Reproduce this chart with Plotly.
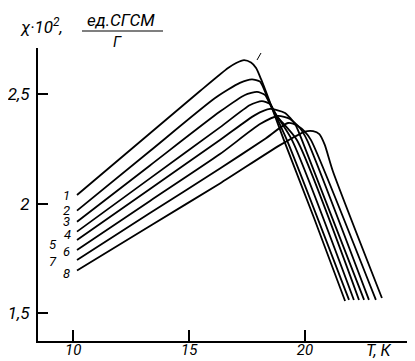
import plotly.graph_objects as go

# Temperature (K) and susceptibility (chi*10^2)
T1 = [10.16, 15.47, 16.68, 17.03, 17.37, 17.67, 17.89, 18.10, 18.40, 19.09, 20.39, 21.73]
V1 = [2.040, 2.515, 2.620, 2.643, 2.656, 2.645, 2.620, 2.570, 2.488, 2.291, 1.935, 1.556]
T2 = [10.16, 13.31, 16.12, 17.19, 17.71, 18.06, 18.40, 19.22, 21.90]
V2 = [1.969, 2.241, 2.483, 2.552, 2.568, 2.558, 2.480, 2.291, 1.561]
T3 = [10.16, 13.31, 16.33, 17.41, 17.93, 18.27, 18.58, 19.44, 22.11]
V3 = [1.918, 2.175, 2.421, 2.497, 2.511, 2.497, 2.435, 2.291, 1.561]
T4 = [10.16, 13.31, 16.33, 17.63, 18.14, 18.49, 18.79, 19.65, 22.33]
V4 = [1.873, 2.116, 2.349, 2.451, 2.469, 2.456, 2.400, 2.291, 1.561]
T5 = [10.16, 13.31, 16.33, 17.84, 18.49, 19.14, 19.57, 19.87, 22.55]
V5 = [1.835, 2.068, 2.291, 2.405, 2.433, 2.415, 2.364, 2.291, 1.561]
T6 = [10.16, 13.31, 16.33, 18.06, 18.83, 19.35, 19.78, 20.09, 22.76]
V6 = [1.789, 2.013, 2.227, 2.364, 2.401, 2.387, 2.346, 2.291, 1.561]
T7 = [10.16, 13.31, 16.33, 18.27, 19.27, 19.70, 20.00, 20.26, 23.06]
V7 = [1.743, 1.958, 2.161, 2.296, 2.369, 2.355, 2.328, 2.291, 1.561]
T8 = [10.16, 13.31, 16.33, 18.92, 20.00, 20.35, 20.62, 20.85, 21.20, 23.32]
V8 = [1.695, 1.899, 2.093, 2.268, 2.330, 2.332, 2.318, 2.270, 2.150, 1.570]

curve_names = ["1", "2", "3", "4", "5", "6", "7", "8"]
curves_T = [T1, T2, T3, T4, T5, T6, T7, T8]
curves_V = [V1, V2, V3, V4, V5, V6, V7, V8]

x_ticks = [10, 15, 20]
y_ticks = [1.5, 2, 2.5]

FONT = "Roboto, DejaVu Sans, sans-serif"

fig = go.Figure()
for name, tx, vy in zip(curve_names, curves_T, curves_V):
    fig.add_trace(go.Scatter(x=tx, y=vy, mode="lines", name=name,
                             line=dict(color="black", width=1.8, shape="spline", smoothing=0.6),
                             showlegend=False, hoverinfo="skip"))

# curve number labels
label_pos = [(9.72, 2.040), (9.72, 1.969), (9.72, 1.918), (9.74, 1.860),
             (9.14, 1.813), (9.69, 1.782), (9.14, 1.736), (9.72, 1.683)]
for name, (lx, ly) in zip(curve_names, label_pos):
    fig.add_annotation(x=lx, y=ly, text=name, showarrow=False,
                       font=dict(family=FONT, size=13, color="black", style="italic"))

# page pixel -> paper fraction helpers (plot area spans x 38..410, y 48..341 on the page)
def px(x):
    return (x - 38) / 372

def py(y):
    return (341 - y) / 293

# axis title pieces
fig.add_annotation(xref="paper", yref="paper", x=px(18), y=py(26), xanchor="left",
                   yanchor="middle", text="χ·10<sup>2</sup>,", showarrow=False,
                   font=dict(family=FONT, size=17, color="black", style="italic"))
fig.add_annotation(xref="paper", yref="paper", x=px(121), y=py(20), xanchor="center",
                   yanchor="middle", text="ед.СГСМ", showarrow=False,
                   font=dict(family=FONT, size=17, color="black", style="italic"))
fig.add_annotation(xref="paper", yref="paper", x=px(117), y=py(42), xanchor="center",
                   yanchor="middle", text="Г", showarrow=False,
                   font=dict(family=FONT, size=15, color="black", style="italic"))
fig.add_shape(type="line", xref="paper", yref="paper", x0=px(82), x1=px(163),
              y0=py(31), y1=py(31), line=dict(color="black", width=1.2))
fig.add_annotation(xref="paper", yref="paper", x=px(379), y=py(350), xanchor="center",
                   yanchor="middle", text="T, К", showarrow=False,
                   font=dict(family=FONT, size=16, color="black", style="italic"))
# end tick of the T axis and small stroke near the top of curve 1
fig.add_shape(type="line", xref="paper", yref="paper", x0=px(409), x1=px(409),
              y0=py(341), y1=py(332), line=dict(color="black", width=2))
fig.add_shape(type="line", xref="paper", yref="paper", x0=px(257), x1=px(261),
              y0=py(60), y1=py(53), line=dict(color="black", width=1))

# the page body has an 8px default margin, so the figure is 8px smaller and offset
fig.update_layout(
    width=407, height=353,
    margin=dict(l=30, r=5, t=40, b=20, autoexpand=False),
    paper_bgcolor="white", plot_bgcolor="white",
    separators=", ",
    font=dict(family=FONT, size=15, color="black"),
    xaxis=dict(range=[8.477, 24.532], tickvals=x_ticks, ticks="inside", ticklen=11, tickwidth=2,
               tickcolor="black", showline=True, linecolor="black", linewidth=2, showgrid=False,
               zeroline=False, automargin=False, ticklabelstandoff=-6,
               tickfont=dict(family=FONT, size=15, style="italic")),
    yaxis=dict(range=[1.3735, 2.7114], tickvals=y_ticks, ticks="inside", ticklen=10, tickwidth=1.5,
               tickcolor="black", showline=True, linecolor="black", linewidth=2, showgrid=False,
               zeroline=False, automargin=False, ticklabelstandoff=3,
               tickfont=dict(family=FONT, size=17, style="italic")),
)

fig.write_html("out.html")
